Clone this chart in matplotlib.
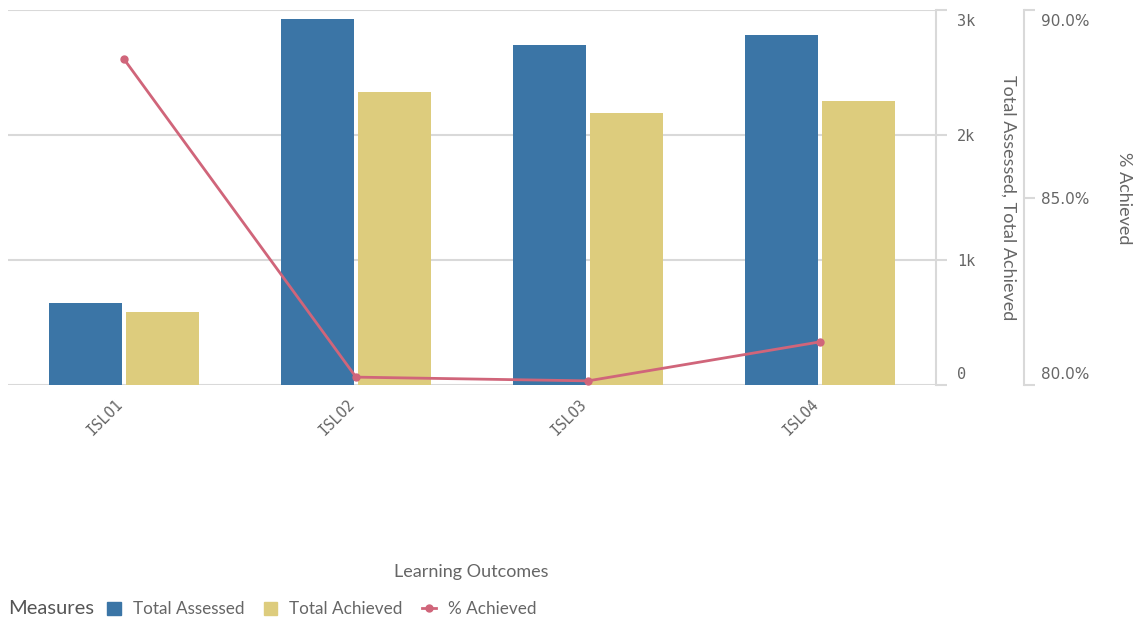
import matplotlib.pyplot as plt
import matplotlib.transforms as mtransforms
from matplotlib.patches import Patch
from matplotlib.lines import Line2D
import numpy as np

# data
categories = ['ISLO1', 'ISLO2', 'ISLO3', 'ISLO4']
total_assessed = [656, 2928, 2720, 2800]
total_achieved = [584, 2344, 2176, 2272]
pct_achieved = [88.69, 80.21, 80.11, 81.15]

BLUE = '#3b75a6'
YELLOW = '#ddcc7d'
RED = '#d0657a'
GRID = '#d9d9d9'
TXT = '#666666'
MONO = 'DejaVu Sans Mono'
SANS = 'Lato'

W, H = 1139, 620
fig = plt.figure(figsize=(W / 100, H / 100), dpi=100)


def shift(text, dx, dy):
    # nudge a text by a few pixels
    text.set_transform(text.get_transform() +
                       mtransforms.ScaledTranslation(dx / 100, dy / 100, fig.dpi_scale_trans))


# main axes (px box: x 8..936, y 10..385)
ax = fig.add_axes([8 / W, 1 - 385 / H, 928 / W, 375 / H])
ax2 = ax.twinx()  # percent axis (twinx resets ax ticks to left, so set up ax after)

x = np.arange(len(categories))
bw = 0.315
ax.bar(x - bw / 2 - 0.009, total_assessed, bw, color=BLUE, zorder=3)
ax.bar(x + bw / 2 + 0.009, total_achieved, bw, color=YELLOW, zorder=3)
ax.set_xlim(-0.5, len(categories) - 0.5)
ax.set_ylim(0, 3000)
ax.set_yticks([0, 1000, 2000, 3000])
ax.set_yticklabels(['0', '1k', '2k', '3k'], fontfamily=MONO)
ax.yaxis.tick_right()
ax.grid(axis='y', color=GRID, linewidth=1.5, zorder=0)
for s in ['top', 'left', 'bottom']:
    ax.spines[s].set_visible(False)
ax.spines['right'].set_color(GRID)
ax.spines['right'].set_linewidth(1.5)
ax.tick_params(axis='y', colors=GRID, labelcolor=TXT, length=8, width=1.5, pad=7,
               labelsize=11)

ax.set_xticks(x)
ax.set_xticklabels(categories, rotation=45, ha='right', va='center',
                   rotation_mode='anchor', fontfamily=MONO, fontsize=10.5, color=TXT)
ax.tick_params(axis='x', length=0, pad=12)

ax2.plot(x, pct_achieved, color=RED, linewidth=2, marker='o', markersize=5, zorder=5)
ax2.set_ylim(80, 90)
ax2.set_yticks([80, 85, 90])
ax2.set_yticklabels(['80.0%', '85.0%', '90.0%'], fontfamily=MONO)
for s in ['top', 'left', 'bottom']:
    ax2.spines[s].set_visible(False)
ax2.spines['right'].set_position(('axes', (1024 - 8) / 928))
ax2.spines['right'].set_color(GRID)
ax2.spines['right'].set_linewidth(1.5)
ax2.tick_params(axis='y', colors=GRID, labelcolor=TXT, length=8, width=1.5, pad=4,
                labelsize=11)

# end labels sit inside the axis span, like the reference
for a in (ax, ax2):
    labs = a.get_yticklabels()
    labs[0].set_va('bottom')
    shift(labs[0], 0, 3)
    labs[-1].set_va('top')
    shift(labs[-1], 0, -4)
for t in ax.get_xticklabels():
    shift(t, -4, 0)

# axis titles
fig.text(1008 / W, 1 - 198 / H, 'Total Assessed, Total Achieved', rotation=-90,
         color=TXT, fontsize=13, fontfamily=SANS, ha='center', va='center')
fig.text(1124 / W, 1 - 198 / H, '% Achieved', rotation=-90, color=TXT,
         fontsize=13, fontfamily=SANS, ha='center', va='center')
fig.text(471 / W, 1 - 572 / H, 'Learning Outcomes', color=TXT, fontsize=13,
         fontfamily=SANS, ha='center', va='center')

# legend
fig.text(8 / W, 1 - 609 / H, 'Measures', fontsize=14.5, color='#555555',
         fontfamily=SANS, va='center', ha='left')
handles = [
    Patch(color=BLUE),
    Patch(color=YELLOW),
    Line2D([0], [0], color=RED, linewidth=2, marker='o', markersize=5),
]
fig.legend(handles, ['Total Assessed', 'Total Achieved', '% Achieved'],
           loc='center left', bbox_to_anchor=(107 / W, 1 - 609 / H), ncol=3,
           frameon=False, handlelength=0.8, handleheight=0.8, handletextpad=0.7,
           columnspacing=1.15, prop={'family': SANS, 'size': 12.3},
           labelcolor=TXT, borderpad=0, borderaxespad=0)

fig.savefig('out.png', dpi=100)
